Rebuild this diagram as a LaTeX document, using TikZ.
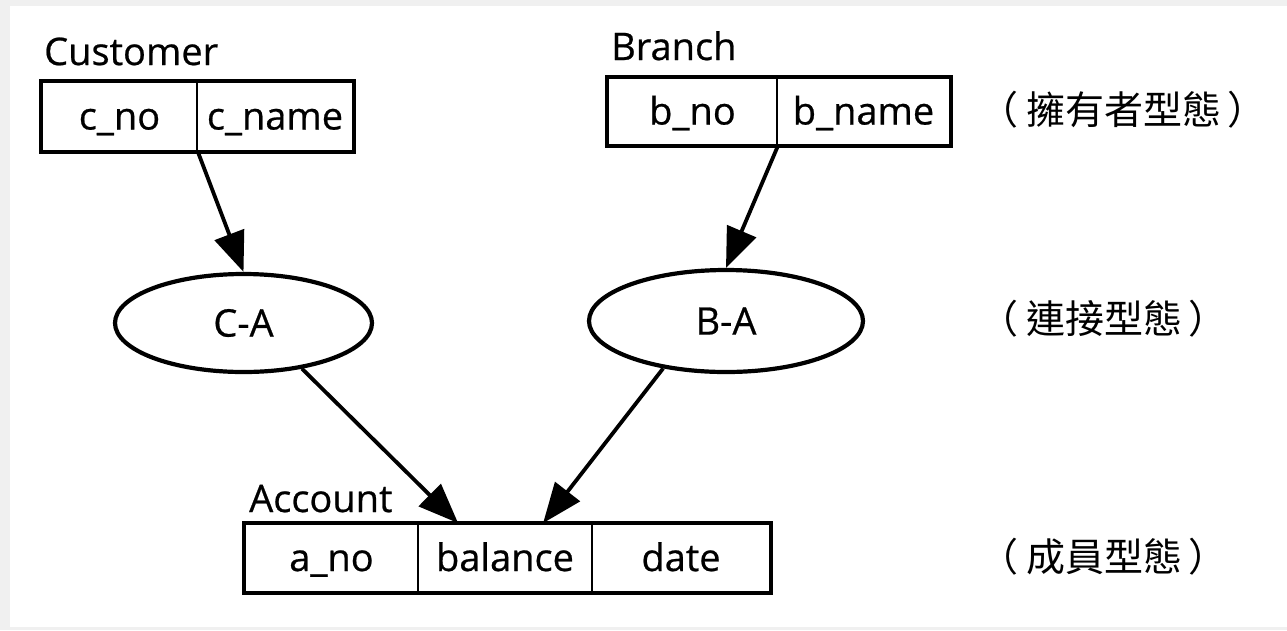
\documentclass[tikz,border=0pt]{standalone}
\usepackage{fontspec}
\setmainfont{Open Sans}[FakeBold=0.6]
\newfontfamily\cjk{Noto Sans CJK TC}
\usetikzlibrary{arrows.meta,shapes.geometric}

\begin{document}
\begin{tikzpicture}[x=1pt,y=-1pt,
  cell/.style={draw,line width=1.8pt,inner sep=0pt,text height=34pt,text depth=8pt,
    font=\fontsize{38}{44}\selectfont},
  tblframe/.style={draw,line width=4.5pt},
  relshape/.style={draw,ellipse,line width=4.2pt,inner sep=0pt,font=\fontsize{38}{44}\selectfont},
  tname/.style={anchor=base west,inner sep=0pt,font=\fontsize{38}{44}\selectfont},
  kind/.style={anchor=west,inner sep=0pt,font=\cjk\fontsize{39}{46}\selectfont},
  link/.style={line width=3.8pt,-{Triangle[length=40pt,width=31pt]}}
]
% page and its light frame
\fill[black!6] (0,0) rectangle (1287,630);
\fill[white] (10,6) rectangle (1287,627);
\useasboundingbox (0,0) rectangle (1287,630);

% Customer (owner record type)
\node[tname] (custlbl) at (44,65) {Customer};
\node[cell,minimum width=155pt,minimum height=69pt] (cno) at (119.5,116.5) {c\_no};
\node[cell,minimum width=156pt,minimum height=69pt] (cname) at (275,116.5) {c\_name};
\draw[tblframe] (cno.north west) rectangle (cname.south east);

% Branch (owner record type)
\node[tname] (brlbl) at (611,60) {Branch};
\node[cell,minimum width=169pt,minimum height=67pt] (bno) at (692.5,111.5) {b\_no};
\node[cell,minimum width=173pt,minimum height=67pt] (bname) at (863.5,111.5) {b\_name};
\draw[tblframe] (bno.north west) rectangle (bname.south east);

% link record types
\node[relshape,minimum width=257pt,minimum height=98pt] (ca) at (243.5,323) {C-A};
\node[relshape,minimum width=274pt,minimum height=102pt] (ba) at (726,321) {B-A};

% Account (member record type)
\node[tname] (acclbl) at (249,512) {Account};
\node[cell,minimum width=173pt,minimum height=68pt] (ano) at (331.5,558) {a\_no};
\node[cell,minimum width=174pt,minimum height=68pt] (bal) at (505,558) {balance};
\node[cell,minimum width=178pt,minimum height=68pt] (date) at (681,558) {date};
\draw[tblframe] (ano.north west) rectangle (date.south east);

\coordinate (inCA) at ([xshift=41pt]bal.north west);
\coordinate (inBA) at ([xshift=126pt]bal.north west);

% set connections
\draw[link] (cno.south east) -- (ca.north);
\draw[link] (bno.south east) -- (ba.north);
\draw[link] (ca.-38) -- (inCA);
\draw[link] (ba.-143) -- (inBA);

% level captions
\node[kind] (k1) at (979,110) {（\hspace{8pt}擁有者型態\hspace{6pt}）};
\node[kind] (k2) at (979,319) {（\hspace{8pt}連接型態\hspace{6pt}）};
\node[kind] (k3) at (979,557) {（\hspace{8pt}成員型態\hspace{6pt}）};
\end{tikzpicture}
\end{document}
